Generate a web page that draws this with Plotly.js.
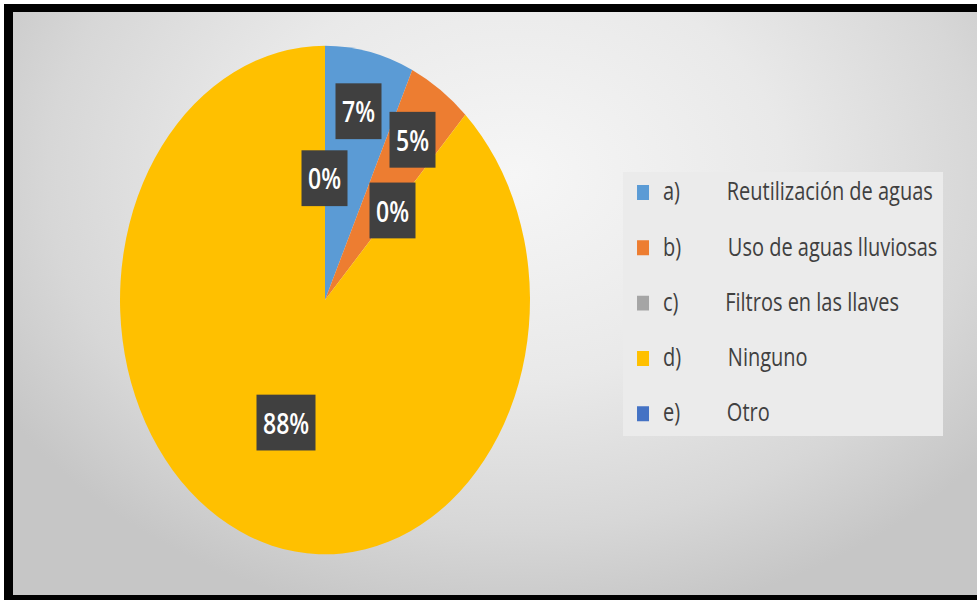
<!DOCTYPE html>
<html>
<head>
<meta charset="utf-8">
<script src="https://cdn.plot.ly/plotly-3.0.1.min.js"></script>
<style>
html,body{margin:0;padding:0;background:#fff;width:977px;height:600px;overflow:hidden}
#frame{position:absolute;left:4px;top:4px;width:973px;height:596px;background:#000}
#inner{position:absolute;left:13px;top:12px;width:964px;height:583px;overflow:hidden;
  background:radial-gradient(ellipse 62% 78% at 52% 28%, #f6f6f6 0%, #e9e9e9 45%, #d7d7d7 78%, #c6c6c6 100%);}
#chart{position:absolute;left:0;top:0;width:964px;height:470px;transform:scaleY(1.2404);transform-origin:0 0}
</style>
</head>
<body>
<div id="frame"></div>
<div id="inner"><div id="chart"></div></div>
<script>
// ---- data ----
const letters = ['a)', 'b)', 'c)', 'd)', 'e)'];
const categories = ['Reutilización de aguas', 'Uso de aguas lluviosas', 'Filtros en las llaves', 'Ninguno', 'Otro'];
const percentages = [7, 5, 0, 88, 0];
const colors = ['#5B9BD5', '#ED7D31', '#A5A5A5', '#FFC000', '#4472C4'];

// ---- build ----
const NB = '\u00A0';
const legendLabels = categories.map((c, i) =>
  '<span style="font-size:20px">' + letters[i] + NB.repeat(9) + c + '</span>' +
  (i < categories.length - 1 ? '<br>' + NB : ''));

const dom = {x: [0.111, 0.5363], y: [0.0698, 0.9421]};

const data = [{
  type: 'pie',
  labels: legendLabels,
  values: percentages,
  sort: false,
  direction: 'clockwise',
  rotation: 0,
  marker: {colors: colors, line: {width: 0}},
  textinfo: 'none',
  hoverinfo: 'percent',
  domain: dom
}];

const layout = {
  width: 964, height: 470,
  margin: {l: 0, r: 0, t: 0, b: 0},
  paper_bgcolor: 'rgba(0,0,0,0)',
  plot_bgcolor: 'rgba(0,0,0,0)',
  showlegend: true,
  legend: {
    x: 0.6328, y: 0.7264, xanchor: 'left', yanchor: 'top',
    bgcolor: '#ebebeb', borderwidth: 0, valign: 'top', traceorder: 'normal',
    font: {family: 'Open Sans, DejaVu Sans, sans-serif', size: 16, color: '#404040'}
  }
};

const gd = document.getElementById('chart');
Plotly.newPlot(gd, data, layout, {staticPlot: true, displayModeBar: false}).then(function () {
  const sz = gd._fullLayout._size;
  const cd0 = gd.calcdata[0][0];
  const cx = (cd0.cx !== undefined) ? cd0.cx : sz.l + sz.w * (dom.x[0] + dom.x[1]) / 2;
  const cy = (cd0.cy !== undefined) ? cd0.cy : sz.t + sz.h * (1 - (dom.y[0] + dom.y[1]) / 2);
  const r = (cd0.r !== undefined) ? cd0.r : Math.min(sz.w * (dom.x[1] - dom.x[0]), sz.h * (dom.y[1] - dom.y[0])) / 2;
  const total = percentages.reduce((a, b) => a + b, 0);
  let cum = 0;
  const anns = [];
  percentages.forEach(function (v, i) {
    const frac = v / total;
    const mid = cum + frac / 2;
    cum += frac;
    const rf = v === 0 ? 0.48 : (frac > 0.5 ? 0.52 : 0.76);
    const ang = 2 * Math.PI * mid;
    const px = cx + rf * r * Math.sin(ang);
    const py = cy - rf * r * Math.cos(ang);
    anns.push({
      xref: 'paper', yref: 'paper',
      x: (px - sz.l) / sz.w, y: 1 - (py - sz.t) / sz.h,
      xanchor: 'center', yanchor: 'middle', showarrow: false,
      text: Math.round(frac * 100) + '%',
      font: {family: 'Open Sans, DejaVu Sans, sans-serif', size: 23, color: '#ffffff', weight: 600},
      bgcolor: '#404040', borderpad: 6
    });
  });
  return Plotly.relayout(gd, {annotations: anns});
});
</script>
</body>
</html>
